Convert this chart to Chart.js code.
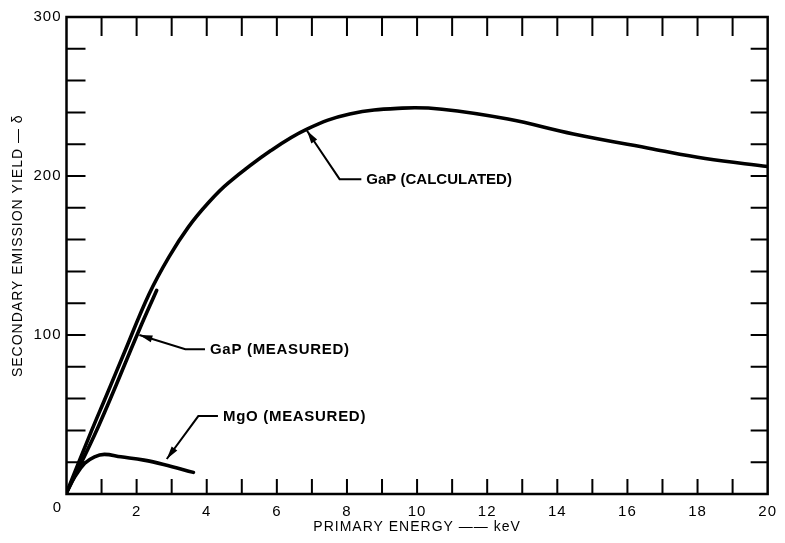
<!DOCTYPE html>
<html>
<head>
<meta charset="utf-8">
<script src="https://cdn.jsdelivr.net/npm/chart.js@4/dist/chart.umd.min.js"></script>
<style>
html,body{margin:0;padding:0;background:#fff;}
#wrap{width:785px;height:543px;}
</style>
</head>
<body>
<div id="wrap"><canvas id="c" width="785" height="543"></canvas></div>
<script>
// ---- data ----
const gapCalcX = [0, 0.71, 1.13, 1.65, 2.35, 2.92, 3.48, 4.04, 4.61, 5.83, 6.86, 8.08, 9.58, 10.71, 12.59, 14.46, 16.72, 18.22, 20];
const gapCalcY = [0.8, 39.5, 61.5, 89, 125.5, 149, 168, 183, 195.5, 216, 229.5, 239, 242.7, 242, 235.8, 226.4, 217, 211, 206];

const gapMeasX = [0, 0.9, 2.07, 2.57];
const gapMeasY = [0.8, 42, 103, 128];

const mgoMeasX = [0, 0.24, 0.52, 0.80, 1.08, 1.55, 2.21, 2.77, 3.62];
const mgoMeasY = [0.8, 10.9, 19.3, 23.4, 24.9, 23.4, 21.3, 18.6, 13.6];

const seriesNames = ['GaP (CALCULATED)', 'GaP (MEASURED)', 'MgO (MEASURED)'];
const xTitle = 'PRIMARY ENERGY —— keV';
const yTitle = '    SECONDARY EMISSION YIELD — δ';

function pts(xs, ys){ return xs.map((v,i)=>({x:v, y:ys[i]})); }

const FONT = '"Liberation Sans", Arial, sans-serif';

// callouts: tip on curve, elbow, end of horizontal leader; label drawn after
const callouts = [
  {text: seriesNames[0], tip:[6.86, 228.5], elbow:[7.79, 198], end:[8.41, 198], sp:'0px'},
  {text: seriesNames[1], tip:[2.08, 100.0], elbow:[3.39, 91], end:[3.95, 91], sp:'0.7px'},
  {text: seriesNames[2], tip:[2.86, 22.0], elbow:[3.76, 49], end:[4.32, 49], sp:'0.7px'}
];

const framePlugin = {
  id: 'framePlugin',
  beforeDraw(chart){ chart.ctx.letterSpacing = '1px'; },
  afterDatasetsDraw(chart){
    const {ctx, chartArea:a, scales:{x, y}} = chart;
    ctx.save();
    ctx.strokeStyle = '#000';
    ctx.lineCap = 'butt';
    // inward ticks
    ctx.lineWidth = 2;
    ctx.beginPath();
    x.ticks.forEach(t => {
      if (t.value <= x.min || t.value >= x.max) return;
      const px = x.getPixelForValue(t.value);
      ctx.moveTo(px, a.bottom); ctx.lineTo(px, a.bottom - 15);
      ctx.moveTo(px, a.top); ctx.lineTo(px, a.top + 19);
    });
    y.ticks.forEach(t => {
      if (t.value <= y.min || t.value >= y.max) return;
      const py = y.getPixelForValue(t.value);
      ctx.moveTo(a.left, py); ctx.lineTo(a.left + 19, py);
      ctx.moveTo(a.right, py); ctx.lineTo(a.right - 17, py);
    });
    ctx.stroke();
    // frame
    ctx.lineWidth = 2.5;
    ctx.strokeRect(a.left, a.top, a.right - a.left, a.bottom - a.top);

    // shared origin label
    ctx.fillStyle = '#000';
    ctx.font = '15px ' + FONT;
    ctx.textAlign = 'center';
    ctx.textBaseline = 'middle';
    ctx.fillText('0', x.getPixelForValue(0) - 9, a.bottom + 14);

    // callouts
    ctx.lineWidth = 2;
    callouts.forEach(c => {
      const tx = x.getPixelForValue(c.tip[0]), ty = y.getPixelForValue(c.tip[1]);
      const ex = x.getPixelForValue(c.elbow[0]), ey = y.getPixelForValue(c.elbow[1]);
      const hx = x.getPixelForValue(c.end[0]), hy = y.getPixelForValue(c.end[1]);
      ctx.beginPath();
      ctx.moveTo(hx, hy); ctx.lineTo(ex, ey); ctx.lineTo(tx, ty);
      ctx.stroke();
      const ang = Math.atan2(ty - ey, tx - ex);
      const L = 13, W = 3.5;
      ctx.beginPath();
      ctx.moveTo(tx, ty);
      ctx.lineTo(tx - L*Math.cos(ang) + W*Math.sin(ang), ty - L*Math.sin(ang) - W*Math.cos(ang));
      ctx.lineTo(tx - L*Math.cos(ang) - W*Math.sin(ang), ty - L*Math.sin(ang) + W*Math.cos(ang));
      ctx.closePath();
      ctx.fill();
      ctx.font = 'bold 15px ' + FONT;
      ctx.letterSpacing = c.sp;
      ctx.textAlign = 'left';
      ctx.textBaseline = 'middle';
      ctx.fillText(c.text, hx + 5, hy + 1);
    });
    ctx.restore();
  }
};

const lineDs = (label, data) => ({
  label, data,
  showLine: true,
  borderColor: '#000',
  backgroundColor: '#000',
  borderWidth: 3.6,
  pointRadius: 0,
  pointHoverRadius: 0,
  tension: 0.4,
  borderCapStyle: 'round',
  borderJoinStyle: 'round',
  fill: false
});

new Chart(document.getElementById('c'), {
  type: 'scatter',
  data: {
    datasets: [
      lineDs(seriesNames[0], pts(gapCalcX, gapCalcY)),
      lineDs(seriesNames[1], pts(gapMeasX, gapMeasY)),
      lineDs(seriesNames[2], pts(mgoMeasX, mgoMeasY))
    ]
  },
  options: {
    responsive: false,
    animation: false,
    devicePixelRatio: 1,
    layout: {padding: {top: 17, right: 8.5, left: 0, bottom: 0}},
    plugins: {legend: {display: false}, tooltip: {enabled: false}},
    scales: {
      x: {
        type: 'linear', min: 0, max: 20, position: 'bottom',
        grid: {display: false, drawTicks: false},
        border: {display: false},
        ticks: {
          stepSize: 1, autoSkip: false, maxRotation: 0,
          color: '#000', font: {size: 15, family: FONT}, padding: 9,
          callback: v => (v % 2 === 0 && v !== 0) ? String(v) : ''
        },
        title: {display: true, text: xTitle, color: '#000', font: {size: 14, family: FONT}, padding: {top: 0, bottom: 7.6}},
        afterFit: s => { s.height = 49; }
      },
      y: {
        type: 'linear', min: 0, max: 300, position: 'left',
        grid: {display: false, drawTicks: false},
        border: {display: false},
        ticks: {
          stepSize: 20, autoSkip: false,
          color: '#000', font: {size: 15, family: FONT}, padding: 5,
          callback: v => (v % 100 === 0 && v !== 0) ? String(v) : ''
        },
        title: {display: true, text: yTitle, color: '#000', font: {size: 14, family: FONT}, padding: {top: 9.6, bottom: 0}},
        afterFit: s => { s.width = 66.5; }
      }
    }
  },
  plugins: [framePlugin]
});
</script>
</body>
</html>
